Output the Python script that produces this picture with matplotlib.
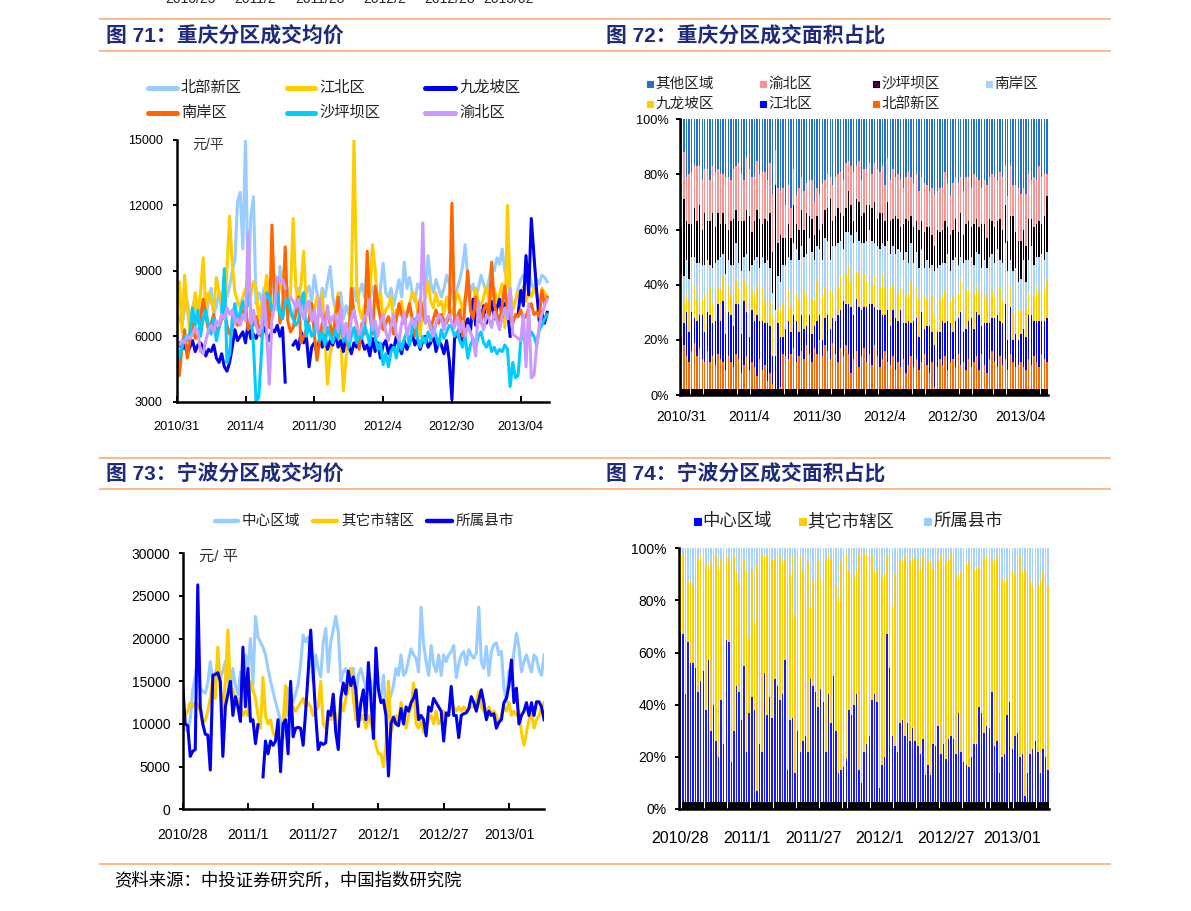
import numpy as np
import matplotlib
matplotlib.use("Agg")
import matplotlib.pyplot as plt
from matplotlib.lines import Line2D
from matplotlib.patches import Rectangle

nan = np.nan
W, H = 1191, 911

plt.rcParams["font.family"] = ["Liberation Sans", "Noto Sans CJK SC", "DejaVu Sans"]

# ---------------- 图71 重庆分区成交均价 (元/平, weekly) ----------------
cq_ticks = ["2010/31", "2011/4", "2011/30", "2012/4", "2012/30", "2013/04"]

cq_bbxq = [7000, 6800, 6500, 7200, 7600, 6800, 7300, 7800, 6600, 7200,
           7500, 6900, 7600, 8200, 7000, 7400, 8000, 7200, 8500, 7800,
           8300, 9000, 9500, 12200, 12600, 10000, 15000, 8000, 11500, 12400,
           7500, 8000, 7600, 8200, 7800, 7400, 8500, 8800, 7200, 9200,
           8000, 7600, 8200, 7000, 6800, 7500, 8200, 7800, 7200, 8000,
           8300, 7600, 8800, 8000, 7400, 8200, 7800, 8500, 9200, 7800,
           7200, 7600, 8000, 6800, 7400, 7000, 7800, 8200, 7600, 8000,
           8400, 7800, 9300, 8600, 8000, 7800, 7400, 8200, 9350, 8000,
           7800, 8200, 7400, 8000, 8600, 7800, 9400, 8200, 8700, 8000,
           7600, 8400, 8200, 8800, 8000, 9700, 8400, 8000, 8600, 8200,
           7800, 8200, 8800, 8400, 8000, 7600, 8200, 8600, 9200, 10200,
           8600, 8000, 8400, 7800, 8200, 8800, 8400, 8000, 8600, 9200,
           9000, 9600, 9300, 10000, 9000, 8600, 8000, 7400, 7600, 8200,
           8600, 8800, 8500, 9000, 8400, 8200, 8600, 8400, 8800, 8700, 8500]

cq_jbq = [7400, 8500, 6200, 8800, 7300, 6200, 7000, 8000, 7100, 8000,
          9600, 7300, 8000, 7600, 7200, 8700, 8000, 7600, 6800, 9100,
          11500, 9300, 8000, 7600, 7300, 7800, 8200, 7400, 7900, 8500,
          8200, 6700, 7500, 7800, 8800, 7400, 7000, 8000, 7600, 8400,
          8600, 9400, 7100, 8000, 11400, 8300, 7600, 8400, 9900, 7100,
          7500, 6700, 7200, 7800, 6900, 8000, 6000, 3800, 5200, 5800,
          7200, 8000, 5900, 3500, 5000, 6000, 8200, 15000, 8400, 7200,
          6800, 7400, 7000, 7800, 10200, 9100, 7300, 8000, 6800, 7200,
          7400, 7800, 6600, 7200, 7000, 7600, 6800, 7100, 7500, 8000,
          7900, 7200, 6000, 7400, 7800, 8500, 7600, 7300, 8000, 7400,
          7600, 7000, 7800, 7200, 7000, 7400, 8000, 7700, 7200, 7800,
          8000, 7600, 7200, 8200, 7600, 7400, 7800, 8300, 7600, 7900,
          8200, 7600, 7900, 8400, 6400, 12000, 8000, 7200, 7600, 8000,
          7800, 8300, 7600, 8000, 7800, 8200, 7900, 7500, 8200, 8000, 7800]

cq_jlpq = [5500, 5700, 5400, 5600, 5200, 5500, 5800, 5300, 5600, 5700,
           5500, 5100, 5400, 5300, 5600, 5000, 4800, 5200, 4600, 4400,
           4800, 5500, 6300, 5800, 6000, 6200, 5700, 6600, 5900, 6100,
           5900, 6200, 6000, 6400, 6100, 5800, 6300, 6200, 6500, 6000,
           6400, 3900, nan, nan, 5600, 5800, 5400, 6200, 5700, 6000,
           4600, 5500, 5700, 5200, 5900, 5500, 6000, 5400, 5800, 5600,
           6100, 5500, 5800, 5300, 6000, 5600, 5200, 5700, 5500, 6100,
           5800, 5400, 5600, 5100, 5900, 5300, 5700, 5000, 5600, 5800,
           5200, 5600, 5400, 6000, 5500, 5200, 5800, 5400, 5700, 6100,
           5600, 5900, 5400, 5800, 6000, 5500, 5700, 6100, 5300, 5800,
           5600, 5200, 5800, 4900, 3100, 5900, 6100, 6400, 5800, 6500,
           6800, 6200, 7700, 6500, 7200, 6800, 7400, 6600, 7000, 7600,
           6800, 7300, 7700, 6900, 7500, 7200, 6000, nan, nan, 7000,
           8100, 7400, 9700, 7900, 11400, 9700, 8100, 6700, 7100, 6600, 7100]

cq_naq = [5500, 4200, 5500, 6300, 5000, 5800, 6600, 5900, 6000, 6800,
          7700, 6900, 6300, 6600, 7000, 6200, 6400, 6800, 7200, 6500,
          6100, 6400, 6800, 6500, 6600, 7100, 7400, 6300, 6700, 6500,
          6900, 6400, 6000, 7000, 7700, 6400, 11100, 7500, 8600, 6600,
          7200, 10100, 6700, 6200, 6400, 7000, 7800, 5700, 6000, 6300,
          6800, 7500, 6100, 4900, 5800, 6600, 6900, 7200, 6500, 6000,
          6800, 7800, 6600, 6300, 5800, 5500, 8200, 7000, 6600, 5400,
          6600, 6100, 9900, 7000, 6100, 8300, 7500, 6800, 6300, 6600,
          6900, 6500, 6100, 6800, 7500, 7000, 6600, 7000, 7500, 6800,
          6000, 6800, 7700, 7100, 6600, 6900, 6300, 6800, 7200, 6600,
          7000, 6700, 6600, 7000, 12100, 6600, 6900, 7200, 6000, 7600,
          9000, 7200, 6800, 7800, 7000, 6600, 7200, 7500, 6900, 9400,
          7500, 7000, 6700, 7400, 8300, 7200, 6800, 6600, 7000, 6900,
          7200, 6800, 6900, 7300, 7500, 7000, 7100, 6900, 8100, 7500, 7800]

cq_spbq = [5700, 5000, 5500, 6000, 5800, 6200, 7300, 6500, 7200, 6000,
           6800, 7200, 6500, 6100, 6800, 5800, 6400, 7000, 9100, 4800,
           5200, 6800, 7500, 6700, 7100, 7600, 7000, 8000, 7200, 5600,
           3000, 3200, 5200, 7600, 8000, 7800, 7200, 7500, 8000, 7000,
           6800, 7500, 7700, 7200, 6800, 6500, 6700, 7500, 8000, 6000,
           6500, 6000, 6200, 6800, 5800, 6200, 5600, 6400, 6000, 5700,
           6300, 5900, 6600, 5800, 6200, 5500, 6000, 6400, 5700, 6200,
           5900, 6500, 6100, 5600, 6800, 6000, 5400, 5700, 4700, 5200,
           4600, 5300, 5500, 5000, 5800, 5400, 5900, 6200, 5600, 6400,
           6800, 5900, 5500, 6000, 5700, 6200, 5800, 6400, 6000, 5600,
           6300, 5900, 6200, 6500, 6400, 6000, 6200, 5800, 5500, 6000,
           5000, 5600, 5900, 5500, 6000, 6200, 5700, 5500, 5800, 5300,
           5500, 5200, 5400, 5300, 5600, 5400, 3700, 4800, 4100, 4200,
           5800, 6000, 5600, 5800, 6200, 6000, 5600, 6300, 6500, 6800, 7000]

cq_ybq = [5700, 5600, 5800, 5700, 6000, 5900, 6100, 6400, 6200, 5300,
          5200, 5800, 6300, 6500, 6200, 6700, 6500, 7000, 6800, 7300,
          7000, 7200, 6600, 6800, 6500, 7000, 6700, 10800, 6600, 7200,
          6500, 6100, 6400, 7900, 6200, 3800, 6800, 7400, 8700, 8500,
          8600, 8200, nan, 7800, 7600, 7300, 7700, 7100, 6800, 7500,
          7600, 6700, 7200, 6200, 7700, 6800, 6300, 7400, 6600, 6900,
          7000, 6200, 7300, 6000, 6600, 5800, 6800, 7200, 6500, 6100,
          6400, 6900, 7000, 7700, 6300, 6700, 6000, 6600, 7000, 6200,
          5800, 6500, 7000, 6100, 5800, 6600, 7100, 6000, 6500, 6800,
          6400, 7000, 6700, 11200, 6600, 6900, 6400, 6000, 6600, 7000,
          6800, 6300, 6800, 7000, 6600, 6400, 6900, 6200, 6700, 6000,
          6500, 6200, 5800, 5100, 7600, 6700, 6300, 7000, 6800, 6400,
          7100, 6700, 6300, 6900, 7300, 6800, 8200, 6100, 6000, 5900,
          5800, 7000, 4600, 7500, 4100, 4200, 5500, 6500, 7000, 7400, 7700]

cq_names = ["北部新区", "江北区", "九龙坡区", "南岸区", "沙坪坝区", "渝北区"]
cq_colors = ["#99ccff", "#ffcc00", "#0000ee", "#ff6600", "#00ccff", "#cc99ff"]

# ---------------- 图72 重庆分区成交面积占比 (%) ----------------
sh_bbxq = [15, 18, 14, 12, 16, 19, 14, 17, 13, 12,
           16, 12, 14, 11, 15, 13, 12, 9, 14, 12,
           10, 15, 13, 8, 11, 14, 9, 12, 10, 7,
           13, 9, 11, 5, 8, 4, 2, 1, 3, 15,
           14, 13, 15, 17, 12, 14, 16, 13, 18, 15,
           12, 17, 15, 20, 14, 18, 16, 13, 19, 15,
           12, 17, 14, 18, 15, 8, 13, 16, 10, 14,
           17, 12, 15, 11, 18, 14, 10, 13, 16, 12,
           11, 14, 9, 12, 10, 13, 8, 11, 14, 10,
           13, 9, 12, 15, 11, 8, 12, 3, 10, 13,
           11, 14, 9, 12, 13, 10, 15, 11, 12, 9,
           13, 10, 12, 14, 9, 15, 11, 8, 13, 16,
           12, 10, 14, 11, 13, 9, 15, 12, 10, 11,
           12, 10, 9, 13, 11, 14, 12, 10, 15, 13, 12]

sh_jbq = [6, 8, 16, 11, 14, 9, 13, 12, 16, 11,
          14, 17, 12, 16, 18, 14, 22, 13, 16, 17,
          15, 18, 20, 14, 23, 16, 12, 19, 17, 22,
          14, 18, 15, 21, 17, 10, 12, 25, 18, 6,
          10, 14, 8, 12, 15, 9, 13, 11, 7, 14,
          10, 8, 12, 9, 6, 10, 13, 11, 9, 12,
          17, 14, 20, 15, 18, 24, 16, 19, 22, 17,
          15, 20, 18, 22, 14, 17, 21, 16, 13, 19,
          14, 17, 19, 15, 21, 13, 18, 16, 12, 17,
          15, 12, 18, 9, 14, 17, 11, 15, 13, 10,
          16, 12, 18, 14, 10, 17, 13, 19, 11, 15,
          14, 18, 12, 16, 20, 10, 15, 18, 13, 12,
          16, 19, 13, 15, 20, 11, 17, 8, 12, 9,
          10, 14, 12, 16, 18, 13, 15, 17, 12, 14, 16]

sh_jlpq = [13, 8, 7, 11, 9, 12, 8, 10, 6, 14,
           8, 10, 7, 12, 6, 11, 9, 8, 10, 7,
           12, 9, 6, 11, 8, 10, 14, 7, 9, 11,
           10, 12, 8, 13, 9, 15, 14, 5, 10, 12,
           8, 11, 9, 13, 10, 12, 7, 14, 11, 9,
           13, 10, 15, 8, 16, 11, 12, 14, 9, 13,
           10, 12, 8, 11, 14, 9, 16, 10, 12, 8,
           12, 9, 14, 7, 11, 13, 8, 15, 10, 12,
           14, 9, 12, 10, 8, 13, 11, 9, 15, 10,
           11, 14, 8, 12, 10, 9, 13, 11, 10, 12,
           9, 12, 10, 8, 13, 11, 9, 12, 10, 14,
           11, 9, 13, 10, 8, 12, 11, 9, 14, 10,
           8, 10, 12, 9, 11, 13, 8, 10, 12, 11,
           9, 12, 10, 8, 11, 9, 13, 10, 12, 11, 14]

sh_naq = [10, 9, 12, 8, 11, 10, 13, 9, 12, 10,
          11, 8, 13, 9, 10, 12, 8, 14, 9, 11,
          10, 13, 9, 12, 8, 11, 10, 9, 13, 10,
          9, 11, 14, 10, 12, 8, 3, 12, 10, 14,
          15, 12, 17, 13, 16, 14, 18, 12, 15, 19,
          17, 14, 12, 16, 13, 18, 15, 11, 17, 14,
          16, 13, 11, 15, 12, 17, 10, 14, 12, 16,
          11, 15, 13, 16, 12, 10, 14, 11, 15, 13,
          12, 14, 11, 16, 13, 10, 15, 12, 14, 11,
          13, 11, 15, 10, 14, 12, 11, 16, 13, 12,
          12, 10, 14, 11, 13, 12, 10, 8, 15, 11,
          11, 13, 10, 12, 14, 9, 12, 11, 10, 13,
          12, 14, 10, 13, 11, 12, 9, 15, 12, 10,
          11, 13, 10, 12, 14, 11, 10, 13, 12, 11, 10]

sh_spbq = [17, 28, 14, 20, 12, 18, 15, 21, 13, 19,
           14, 16, 20, 13, 17, 12, 15, 18, 11, 16,
           17, 12, 15, 18, 13, 16, 20, 12, 14, 17,
           18, 12, 16, 14, 20, 15, 45, 12, 17, 10,
           10, 12, 8, 14, 9, 11, 13, 10, 15, 8,
           12, 9, 11, 7, 13, 10, 12, 22, 9, 11,
           13, 10, 12, 9, 15, 11, 8, 12, 14, 10,
           11, 13, 9, 12, 15, 10, 13, 11, 9, 14,
           12, 10, 14, 11, 9, 13, 12, 15, 10, 13,
           11, 14, 10, 13, 12, 15, 11, 9, 14, 12,
           12, 15, 10, 13, 11, 14, 12, 16, 10, 13,
           14, 11, 15, 12, 10, 16, 13, 11, 14, 12,
           13, 10, 15, 12, 14, 11, 16, 20, 13, 15,
           14, 11, 13, 15, 10, 14, 12, 13, 11, 16, 20]

sh_ybq = [20, 17, 16, 18, 19, 15, 20, 14, 18, 16,
          19, 15, 17, 20, 16, 18, 14, 17, 19, 15,
          18, 16, 21, 17, 15, 19, 17, 20, 16, 18,
          16, 19, 17, 15, 18, 21, 13, 20, 16, 18,
          12, 14, 11, 13, 10, 15, 12, 14, 11, 13,
          14, 12, 10, 13, 15, 11, 12, 8, 13, 14,
          12, 15, 13, 16, 11, 14, 18, 12, 15, 13,
          16, 13, 15, 12, 14, 18, 15, 17, 13, 16,
          15, 18, 14, 16, 17, 13, 15, 18, 14, 16,
          17, 14, 16, 18, 15, 13, 17, 19, 14, 16,
          15, 18, 16, 14, 17, 15, 18, 13, 16, 17,
          16, 14, 18, 15, 17, 13, 16, 19, 15, 17,
          18, 15, 17, 19, 14, 16, 18, 11, 17, 19,
          17, 15, 19, 16, 14, 18, 16, 20, 17, 15, 8]

sh_qt = [19, 12, 21, 20, 19, 17, 17, 17, 22, 18,
         18, 22, 17, 19, 18, 20, 20, 21, 21, 22,
         18, 17, 16, 20, 22, 14, 18, 21, 21, 15,
         20, 19, 19, 22, 16, 27, 11, 25, 26, 25,
         31, 24, 32, 18, 28, 25, 21, 26, 23, 22,
         22, 30, 25, 27, 23, 22, 20, 21, 24, 21,
         20, 19, 22, 16, 15, 17, 19, 17, 15, 22,
         18, 18, 16, 20, 16, 18, 19, 17, 24, 14,
         22, 18, 21, 20, 22, 25, 21, 19, 21, 23,
         20, 26, 21, 23, 24, 26, 25, 27, 26, 25,
         25, 19, 23, 28, 23, 21, 23, 21, 26, 21,
         21, 25, 20, 21, 22, 25, 22, 24, 21, 20,
         21, 22, 19, 21, 17, 28, 17, 24, 24, 25,
         27, 25, 27, 20, 22, 21, 22, 17, 21, 20, 20]

# stacking order bottom -> top
sh_names = ["北部新区", "江北区", "九龙坡区", "南岸区", "沙坪坝区", "渝北区", "其他区域"]
sh_colors = ["#ff6600", "#0000ff", "#ffcc00", "#a6d2ff", "#0a000a", "#ff9090", "#1f70d0"]

# ---------------- 图73 宁波分区成交均价 (元/平) ----------------
nb_ticks = ["2010/28", "2011/1", "2011/27", "2012/1", "2012/27", "2013/01"]

nb_zxqy = [11000, 9500, 9100, 10500, 14000, 15500, 18100, 14200, 13800, 13600,
           14800, 17300, 15000, 15800, 17300, 15300, 16200, 17300, 15500, 13400,
           16500, 14500, 13400, 16100, 14600, 18100, 16500, 20000, 14600, 22600,
           20200, 19600, 19000, 18100, 16500, 15000, 13800, 12600, 11500, 10300,
           8300, 11900, 14200, 13800, 12600, 13500, 14600, 17000, 20400, 19600,
           20200, 17700, 15000, 18100, 16500, 15500, 19600, 21200, 16100, 19600,
           21000, 22600, 20800, 15000, 16100, 16500, 15700, 16500, 16500, 13400,
           15700, 16500, 15300, 14200, 15700, 14900, 13000, 15700, 14200, 13000,
           15700, 11800, 12500, 13400, 14500, 16500, 15700, 18100, 15700, 16100,
           17500, 18800, 18100, 17700, 16100, 23700, 19300, 17300, 15700, 19200,
           17000, 16100, 18100, 15700, 18100, 17300, 18100, 18500, 19200, 15400,
           17000, 18100, 18500, 16900, 18700, 18100, 17700, 18300, 23700, 17300,
           16500, 19100, 15700, 18500, 19300, 19500, 18100, 18500, 14200, 12600,
           16300, 15000, 18500, 20600, 19000, 16100, 17300, 18100, 17000, 16100,
           18100, 17700, 16300, 15700, 18100]

nb_qtsxq = [12500, 11000, 11500, 12500, 12000, 12500, 12200, 11500, 10000, 10500,
            11500, 13000, 15500, 13000, 19000, 14000, 11500, 15000, 21000, 14500,
            14000, 12500, 13000, 12000, 11000, 11500, 11000, 15000, 14000, 13000,
            11000, 9500, 15500, 11000, 10000, 10500, 9000, 8500, 8000, 6500,
            10000, 14500, 11000, 11500, 12000, 11500, 12000, 12500, 13000, 12000,
            12500, 12000, 11000, 11500, 12000, 15000, 10000, 9500, 11500, 10500,
            12500, 11000, 8500, 12500, 11500, 13000, 14000, 16500, 13000, 10500,
            11500, 10500, 11000, 9500, 11000, 10000, 9000, 7500, 6500, 6500,
            5000, 7500, 15000, 9000, 10000, 11000, 10000, 12500, 11000, 9500,
            11000, 12000, 14800, 10000, 9500, 10500, 9000, 9500, 10500, 11000,
            10000, 11500, 10000, 10500, 11500, 11000, 11500, 12500, 12000, 11500,
            12000, 11500, 12000, 11500, 11800, 12000, 12000, 12500, 13800, 12000,
            11500, 11000, 12000, 11000, 11500, 11000, 10000, 11000, 12000, 11500,
            12500, 11000, 11500, 11000, 11500, 9000, 7500, 9000, 10500, 11500,
            9500, 10500, 11000, 12000, 12500]

nb_ssxs = [14600, 10000, 9800, 6200, 6800, 7000, 26300, 12000, 10000, 8800,
           8700, 4600, 15700, 15800, 16000, 15000, 6200, 12000, 13500, 15000,
           11000, 13200, 12000, 10300, 19000, 12000, 16500, 10300, 10500, 7700,
           9900, nan, 3800, 8000, 6500, 8000, 7500, 8000, 10500, 4400,
           10000, 10500, 6500, 15000, 8500, 9500, 9600, 9500, 7500, 11500,
           16000, 21000, 16000, 11000, 7000, 7800, 7600, 7800, 11500, 11000,
           13500, 9000, 7000, 13000, 14800, 13500, 16200, 14500, 15500, 14000,
           9700, 12500, 14000, 10500, 17200, 13000, 8300, 18900, 14000, 12500,
           12800, 11000, 3900, 10000, 10800, 10000, 9800, 11800, 10000, 12000,
           11500, 12500, 13000, 14000, 10500, 11000, 10500, 8600, 12000, 11500,
           13000, 12500, 12000, 11500, 8000, 11300, 11000, 14400, 11000, 11000,
           8400, 11000, 11200, 11300, 11800, 13200, 12500, 11500, 12800, 14000,
           12500, 10500, 11500, 11000, 11200, 9500, 10200, 10500, 12500, 13000,
           14500, 17500, 12500, 14200, 10000, 11000, 11500, 12500, 11000, 12500,
           11000, 12600, 12600, 12000, 10500]

nb_names = ["中心区域", "其它市辖区", "所属县市"]
nb_line_colors = ["#99ccff", "#ffcc00", "#0000ee"]

# ---------------- 图74 宁波分区成交面积占比 (%) ----------------
nbs_zxqy = [68, 67, 44, 64, 56, 56, 54, 45, 49, 53,
            38, 57, 30, 40, 26, 20, 42, 25, 65, 64,
            18, 30, 47, 45, 34, 55, 22, 37, 43, 38,
            7, 25, 22, 52, 36, 43, 35, 50, 47, 42,
            44, 57, 15, 34, 35, 14, 30, 22, 26, 28,
            22, 50, 47, 45, 39, 46, 41, 22, 44, 33,
            51, 30, 14, 15, 16, 19, 38, 36, 40, 44,
            15, 10, 22, 25, 28, 42, 44, 41, 8, 17,
            20, 67, 54, 28, 24, 22, 33, 34, 28, 33,
            26, 31, 26, 24, 21, 27, 13, 17, 13, 25,
            24, 32, 21, 25, 19, 27, 28, 27, 21, 37,
            22, 18, 17, 16, 20, 25, 25, 39, 37, 29,
            32, 31, 45, 24, 26, 14, 20, 21, 36, 41,
            23, 28, 29, 20, 21, 5, 14, 21, 23, 26,
            22, 14, 23, 20, 15]

nbs_qtsxq = [29, 31, 34, 23, 32, 30, 36, 51, 48, 31,
             56, 36, 65, 44, 71, 73, 54, 70, 32, 31,
             78, 67, 44, 42, 59, 41, 69, 29, 49, 34,
             87, 35, 75, 45, 61, 50, 61, 46, 24, 55,
             51, 39, 71, 56, 62, 60, 58, 75, 65, 52,
             73, 27, 41, 28, 57, 42, 52, 74, 54, 63,
             43, 56, 66, 80, 56, 79, 53, 56, 49, 48,
             83, 87, 76, 73, 71, 55, 47, 51, 88, 72,
             70, 30, 39, 50, 66, 73, 63, 61, 69, 61,
             69, 66, 70, 72, 71, 70, 84, 78, 83, 67,
             72, 63, 76, 68, 76, 69, 70, 70, 69, 52,
             69, 74, 77, 79, 64, 67, 68, 54, 58, 67,
             65, 64, 51, 71, 71, 78, 68, 66, 53, 47,
             69, 62, 65, 77, 70, 87, 77, 67, 63, 62,
             64, 74, 68, 70, 71]

nbs_ssxs = [3, 2, 22, 13, 12, 14, 10, 4, 3, 16,
            6, 7, 5, 16, 3, 7, 4, 5, 3, 5,
            4, 3, 9, 13, 7, 4, 9, 34, 8, 28,
            6, 40, 3, 3, 3, 7, 4, 4, 29, 3,
            5, 4, 14, 10, 3, 26, 12, 3, 9, 20,
            5, 23, 12, 27, 4, 12, 7, 4, 2, 4,
            6, 14, 20, 5, 28, 2, 9, 8, 11, 8,
            2, 3, 2, 2, 1, 3, 9, 8, 4, 11,
            10, 3, 7, 22, 10, 5, 4, 5, 3, 6,
            5, 3, 4, 4, 8, 3, 3, 5, 4, 8,
            4, 5, 3, 7, 5, 4, 2, 3, 10, 11,
            9, 8, 6, 5, 16, 8, 7, 7, 5, 4,
            3, 5, 4, 5, 3, 8, 12, 13, 11, 12,
            8, 10, 6, 3, 9, 8, 9, 12, 14, 12,
            14, 12, 9, 10, 14]

nbs_colors = ["#1a1aff", "#ffcc00", "#a6d2ff"]

TITLE_COLOR = "#1f2a7a"
RULE_COLOR = "#ffb27a"
TEXT_COLOR = "#222222"


def fx(x):
    return x / W


def fy(y):
    return 1 - y / H


def axes_px(fig, left, top, right, bottom):
    return fig.add_axes([left / W, 1 - bottom / H, (right - left) / W, (bottom - top) / H])


def rule(fig, y):
    fig.add_artist(Line2D([fx(100), fx(1110)], [fy(y), fy(y)], color=RULE_COLOR,
                          lw=1.3, transform=fig.transFigure))


def legend_line(fig, x0, x1, y, color, label, fs, lw=3.6):
    fig.add_artist(Line2D([fx(x0), fx(x1)], [fy(y), fy(y)], color=color, lw=lw,
                          solid_capstyle="round", transform=fig.transFigure))
    fig.text(fx(x1 + 4), fy(y), label, fontsize=fs, color=TEXT_COLOR, ha="left", va="center")


def legend_box(fig, x, y, size, color, label, fs, edge=None):
    fig.add_artist(Rectangle((fx(x - size / 2), fy(y + size / 2)), size / W, size / H,
                             facecolor=color, edgecolor=edge or color, lw=0.8,
                             transform=fig.transFigure))
    fig.text(fx(x + size / 2 + 2), fy(y), label, fontsize=fs, color=TEXT_COLOR,
             ha="left", va="center")


def base_style(ax, ysize, xsize, ypad, xpad, xlen=4):
    for s in ["top", "right"]:
        ax.spines[s].set_visible(False)
    ax.spines["left"].set_linewidth(1.8)
    ax.spines["bottom"].set_linewidth(1.8)
    ax.tick_params(axis="y", direction="out", length=3, width=1.4, labelsize=ysize, pad=ypad)
    ax.tick_params(axis="x", direction="in", length=xlen, width=1.4, labelsize=xsize, pad=xpad)


def draw_lines(ax, series, colors):
    for s, c in zip(series, colors):
        x = np.arange(len(s))
        ax.plot(x, s, color=c, lw=2.2, solid_joinstyle="round")


def draw_stack(ax, shares, colors, width, band_h):
    data = np.array(shares, dtype=float)
    data = data / data.sum(axis=0) * 100
    x = np.arange(data.shape[1])
    bottom = np.zeros(data.shape[1])
    for row, c in zip(data, colors):
        ax.bar(x, row, width, bottom=bottom, color=c, linewidth=0)
        bottom += row
    ax.bar(x, np.full(len(x), band_h), 0.95, color="black", linewidth=0)
    ax.set_xlim(-0.5, data.shape[1] - 0.5)
    ax.set_ylim(0, 100)
    ax.set_yticks([0, 20, 40, 60, 80, 100])
    ax.set_yticklabels(["0%", "20%", "40%", "60%", "80%", "100%"])


fig = plt.figure(figsize=(W / 100, H / 100), dpi=100)

# header remnants of the previous chart on the page (cut by the page edge)
prev_ticks = ["2010/25", "2011/2", "2011/28", "2012/2", "2012/28", "2013/02"]
for xp, lab in zip([190, 255, 320, 385, 450, 508], prev_ticks):
    fig.text(fx(xp), fy(-1), lab, fontsize=10, ha="center", va="center", color=TEXT_COLOR)

for yy in [19, 51, 458, 489, 864]:
    rule(fig, yy)

title_kw = dict(fontsize=15, color=TITLE_COLOR, fontweight="bold", ha="left", va="center")
fig.text(fx(106), fy(36), "图 71：重庆分区成交均价", **title_kw)
fig.text(fx(606), fy(36), "图 72：重庆分区成交面积占比", **title_kw)
fig.text(fx(106), fy(474), "图 73：宁波分区成交均价", **title_kw)
fig.text(fx(606), fy(474), "图 74：宁波分区成交面积占比", **title_kw)
fig.text(fx(114), fy(880), "资料来源：中投证券研究所，中国指数研究院", fontsize=12.5,
         color="black", ha="left", va="center")

# ---- panel 71
ax1 = axes_px(fig, 176.7, 140, 549.3, 401.7)
draw_lines(ax1, [cq_bbxq, cq_jbq, cq_jlpq, cq_naq, cq_spbq, cq_ybq], cq_colors)
ax1.set_xlim(0, 140.8)
ax1.set_ylim(3000, 15000)
ax1.set_yticks([3000, 6000, 9000, 12000, 15000])
ax1.set_xticks([0, 26, 52, 78, 104, 130])
ax1.set_xticklabels(cq_ticks)
base_style(ax1, 9, 9.2, 7, 14)
fig.text(fx(192), fy(145), "元/平", fontsize=10, color="#333333", ha="left", va="center")
leg71 = [(148, 177, 88), (287, 315, 88), (425, 455, 88),
         (148, 177, 113), (287, 315, 113), (425, 455, 113)]
for (x0, x1, yy), name, c in zip(leg71, cq_names, cq_colors):
    legend_line(fig, x0, x1, yy, c, name, 11)

# ---- panel 72
ax2 = axes_px(fig, 680, 119.3, 1048.3, 395)
draw_stack(ax2, [sh_bbxq, sh_jbq, sh_jlpq, sh_naq, sh_spbq, sh_ybq, sh_qt],
           sh_colors, 0.52, 2.3)
ax2.set_xticks([0, 26, 52, 78, 104, 130])
ax2.set_xticklabels(cq_ticks)
base_style(ax2, 9.2, 10, 5, 11, xlen=0)
leg72 = [(650, 84, "其他区域"), (763, 84, "渝北区"), (876, 84, "沙坪坝区"), (989, 84, "南岸区"),
         (650, 104, "九龙坡区"), (763, 104, "江北区"), (876, 104, "北部新区")]
leg72_colors = {"北部新区": "#ff6600", "江北区": "#0000ff", "九龙坡区": "#ffcc00",
                "南岸区": "#a6d2ff", "沙坪坝区": "#4a004a", "渝北区": "#ff9090",
                "其他区域": "#1f70d0"}
for xp, yy, name in leg72:
    edge = "black" if name == "沙坪坝区" else None
    legend_box(fig, xp, yy, 6, leg72_colors[name], name, 10.5, edge=edge)

# ---- panel 73
ax3 = axes_px(fig, 182.7, 553.3, 544.3, 809.3)
draw_lines(ax3, [nb_zxqy, nb_qtsxq, nb_ssxs], nb_line_colors)
ax3.set_xlim(0, 144.1)
ax3.set_ylim(0, 30000)
ax3.set_yticks([0, 5000, 10000, 15000, 20000, 25000, 30000])
ax3.set_xticks([0, 26, 52, 78, 104, 130])
ax3.set_xticklabels(nb_ticks)
base_style(ax3, 10, 10, 6, 13.5)
fig.text(fx(199), fy(557), "元/ 平", fontsize=11, color="#333333", ha="left", va="center")
leg73 = [(215, 238, 521), (313, 337, 521), (427, 452, 521)]
for (x0, x1, yy), name, c in zip(leg73, nb_names, nb_line_colors):
    legend_line(fig, x0, x1, yy, c, name, 10.5, lw=3.2)

# ---- panel 74
ax4 = axes_px(fig, 679, 548.3, 1049.3, 809)
draw_stack(ax4, [nbs_zxqy, nbs_qtsxq, nbs_ssxs], nbs_colors, 0.58, 2.8)
ax4.set_xticks([0, 26, 52, 78, 104, 130])
ax4.set_xticklabels(nb_ticks)
base_style(ax4, 10, 11.5, 6, 16, xlen=0)
leg74 = [(697, 521), (802, 521), (928, 521)]
for (xp, yy), name, c in zip(leg74, nb_names, ["#0000ff", "#ffcc00", "#99ccff"]):
    legend_box(fig, xp, yy, 7, c, name, 12.5)

fig.savefig("out.png", dpi=100)
